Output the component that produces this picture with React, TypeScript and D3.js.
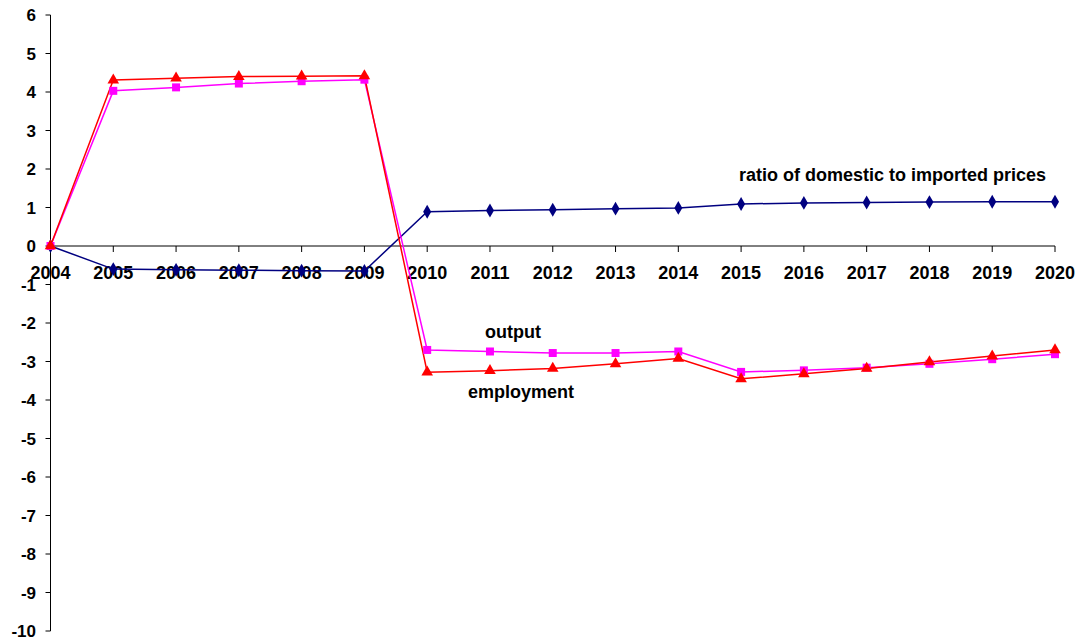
import React from "react";
import * as d3 from "d3";

const years = [2004, 2005, 2006, 2007, 2008, 2009, 2010, 2011, 2012, 2013, 2014, 2015, 2016, 2017, 2018, 2019, 2020];
const ratio = [0, -0.6, -0.62, -0.63, -0.64, -0.65, 0.89, 0.92, 0.94, 0.97, 0.99, 1.09, 1.12, 1.13, 1.14, 1.15, 1.15];
const output = [0, 4.03, 4.12, 4.22, 4.28, 4.32, -2.7, -2.74, -2.78, -2.78, -2.74, -3.27, -3.23, -3.16, -3.06, -2.94, -2.81];
const employment = [0, 4.31, 4.36, 4.4, 4.41, 4.42, -3.28, -3.24, -3.18, -3.06, -2.92, -3.45, -3.32, -3.18, -3.01, -2.86, -2.7];
const yTicks = [6, 5, 4, 3, 2, 1, 0, -1, -2, -3, -4, -5, -6, -7, -8, -9, -10];

const W = 1082;
const H = 641;
const FONT = "'Liberation Sans', Arial, sans-serif";

export default function App() {
  const x = d3.scaleLinear().domain([2004, 2020]).range([50.5, 1055]);
  const y = d3.scaleLinear().domain([-10, 6]).range([631, 15]);
  const line = d3
    .line<number>()
    .x((_, i) => x(years[i]))
    .y((d) => y(d));

  const diamond = d3.symbol(d3.symbolDiamond, 56)();
  const square = d3.symbol(d3.symbolSquare, 64)();
  const triangle = d3.symbol(d3.symbolTriangle, 58)();

  return (
    <svg width={W} height={H} style={{ position: "absolute", left: 0, top: 0, background: "#fff" }}>
      {/* axes */}
      <line x1={x(2004)} x2={x(2004)} y1={y(6)} y2={y(-10)} stroke="#000" strokeWidth={1} />
      <line x1={x(2004)} x2={x(2020)} y1={y(0)} y2={y(0)} stroke="#000" strokeWidth={1} />
      {yTicks.map((t) => (
        <g key={"y" + t}>
          <line x1={x(2004) - 5} x2={x(2004)} y1={y(t)} y2={y(t)} stroke="#000" />
          <text
            x={36}
            y={y(t)}
            dy="0.36em"
            textAnchor="end"
            fontFamily={FONT}
            fontWeight="bold"
            fontSize={17}
            fill="#000"
          >
            {t}
          </text>
        </g>
      ))}
      {years.map((yr) => (
        <g key={"x" + yr}>
          <line x1={x(yr)} x2={x(yr)} y1={y(0)} y2={y(0) + 6} stroke="#000" />
          <text
            x={x(yr)}
            y={279}
            textAnchor="middle"
            fontFamily={FONT}
            fontWeight="bold"
            fontSize={18}
            fill="#000"
          >
            {yr}
          </text>
        </g>
      ))}

      {/* lines */}
      <path d={line(ratio) || ""} fill="none" stroke="#000080" strokeWidth={1.5} />
      <path d={line(output) || ""} fill="none" stroke="#FF00FF" strokeWidth={1.5} />
      <path d={line(employment) || ""} fill="none" stroke="#FF0000" strokeWidth={1.5} />

      {/* markers */}
      {ratio.map((v, i) => (
        <path key={"r" + i} d={diamond || ""} transform={`translate(${x(years[i])},${y(v)})`} fill="#000080" />
      ))}
      {output.map((v, i) => (
        <path key={"o" + i} d={square || ""} transform={`translate(${x(years[i])},${y(v)})`} fill="#FF00FF" />
      ))}
      {employment.map((v, i) => (
        <path key={"e" + i} d={triangle || ""} transform={`translate(${x(years[i])},${y(v)})`} fill="#FF0000" />
      ))}

      {/* labels */}
      <text x={739} y={181} fontFamily={FONT} fontWeight="bold" fontSize={18} fill="#000">
        ratio of domestic to imported prices
      </text>
      <text x={485} y={338} fontFamily={FONT} fontWeight="bold" fontSize={18} fill="#000">
        output
      </text>
      <text x={468} y={398} fontFamily={FONT} fontWeight="bold" fontSize={18} fill="#000">
        employment
      </text>
    </svg>
  );
}
